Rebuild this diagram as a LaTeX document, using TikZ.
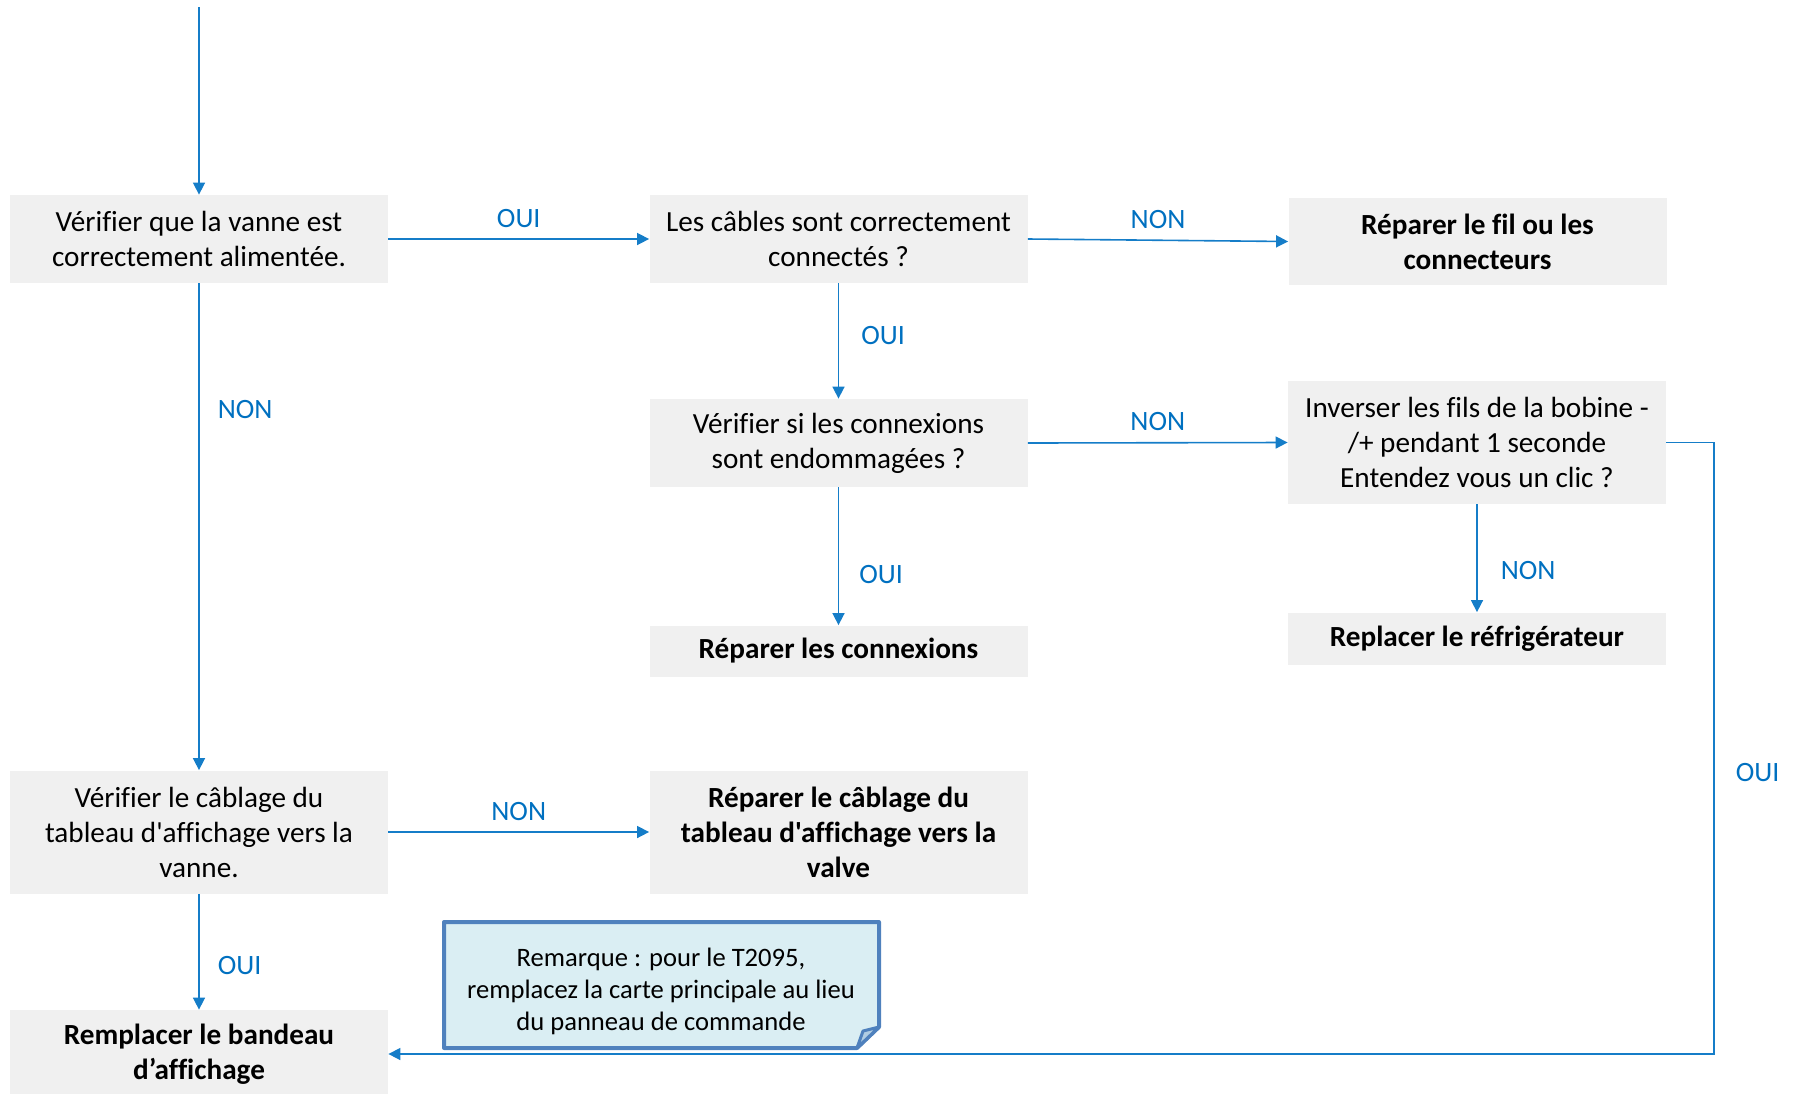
\documentclass[tikz,border=0pt]{standalone}
\usepackage{fontspec}
\setmainfont{Carlito}[Ligatures={TeXOff,CommonOff}]
\usetikzlibrary{arrows.meta}
\definecolor{lblblue}{RGB}{0,112,192}
\definecolor{lineblue}{RGB}{21,125,200}
\definecolor{boxgray}{RGB}{240,240,240}
\definecolor{notefill}{RGB}{218,238,243}
\definecolor{noteline}{RGB}{79,129,189}
\tikzset{
  stepbox/.style={fill=boxgray, minimum width=189pt, inner sep=0pt, align=center,
    font=\fontsize{14.6}{17.5}\selectfont},
  endbox/.style={stepbox, font=\fontsize{14.6}{17.5}\selectfont\bfseries},
  arr/.style={draw=lineblue, line width=0.8pt, -{Triangle[length=6pt,width=6pt]}},
  lbl/.style={text=lblblue, inner sep=0pt, font=\fontsize{14}{17}\selectfont}
}

\begin{document}
\begin{tikzpicture}[x=0.5pt,y=-0.5pt]
    \useasboundingbox (0,0) rectangle (1800,1093);

    \node[stepbox, minimum height=44pt] (check) at (199,239) {Vérifier que la vanne est\\correctement alimentée.};
    \node[stepbox, minimum height=44pt] (cables) at (838.5,239) {Les câbles sont correctement\\connectés ?};
    \node[endbox, minimum height=43.5pt] (fixwire) at (1477.5,241.5) {Réparer le fil ou les\\connecteurs};
    \node[stepbox, minimum height=44pt] (damage) at (838.5,443) {Vérifier si les connexions\\sont endommagées ?};
    \node[stepbox, minimum height=61.5pt] (coil) at (1477,442.5) {Inverser les fils de la bobine -\\/+ pendant 1 seconde\\Entendez vous un clic ?};
    \node[endbox, minimum height=25.5pt] (fixconn) at (838.5,651) {Réparer les connexions};
    \node[endbox, minimum height=26pt] (fridge) at (1477,638.5) {Replacer le réfrigérateur};
    \node[stepbox, minimum height=61.5pt] (wiring) at (199,832) {Vérifier le câblage du\\tableau d'affichage vers la\\vanne.};
    \node[endbox, minimum height=61.5pt] (fixwiring) at (838.5,832) {Réparer le câblage du\\tableau d'affichage vers la\\valve};
    \node[endbox, minimum height=44pt] (display) at (199,1054) {Remplacer le bandeau\\d’affichage};

    %note
    \filldraw[fill=notefill, draw=noteline, line width=2pt, line join=round]
        (444,922) -- (879,922) -- (879,1027) -- (857,1048) -- (444,1048) -- cycle;
    \filldraw[fill=notefill!70!noteline, draw=noteline, line width=1.5pt, line join=round]
        (879,1027) -- (863,1031) -- (857,1048) -- cycle;
    \node[align=center, inner sep=0pt, font=\fontsize{13.3}{16}\selectfont] (note) at (661,991)
        {Remarque : pour le T2095,\\remplacez la carte principale au lieu\\du panneau de commande};

    \coordinate (start) at (199,7);
    \coordinate (turn) at (1714,1054);

    \draw[arr] (start) -- (check);
    \draw[arr] (check) -- node[lbl, above=5.5pt] {OUI} (cables);
    \draw[arr] (cables.east) -- node[lbl, above=5.5pt] {NON} (fixwire.west);
    \draw[arr] (cables) -- node[lbl, pos=0.45, right=11pt] {OUI} (damage);
    \draw[arr] (damage.east) -- node[lbl, above=5.5pt] {NON} (coil.west);
    \draw[arr] (damage) -- node[lbl, pos=0.63, right=10pt] {OUI} (fixconn);
    \draw[arr] (coil) -- node[lbl, pos=0.61, right=11.5pt] {NON} (fridge);
    \draw[arr] (coil.east) -| node[lbl, pos=0.77, right=10.5pt] {OUI} (turn) -- (display.east);
    \draw[arr] (check) -- node[lbl, pos=0.26, right=9pt] {NON} (wiring);
    \draw[arr] (wiring) -- node[lbl, above=5.5pt] {NON} (fixwiring);
    \draw[arr] (wiring) -- node[lbl, pos=0.62, right=9pt] {OUI} (display);

\end{tikzpicture}
\end{document}
